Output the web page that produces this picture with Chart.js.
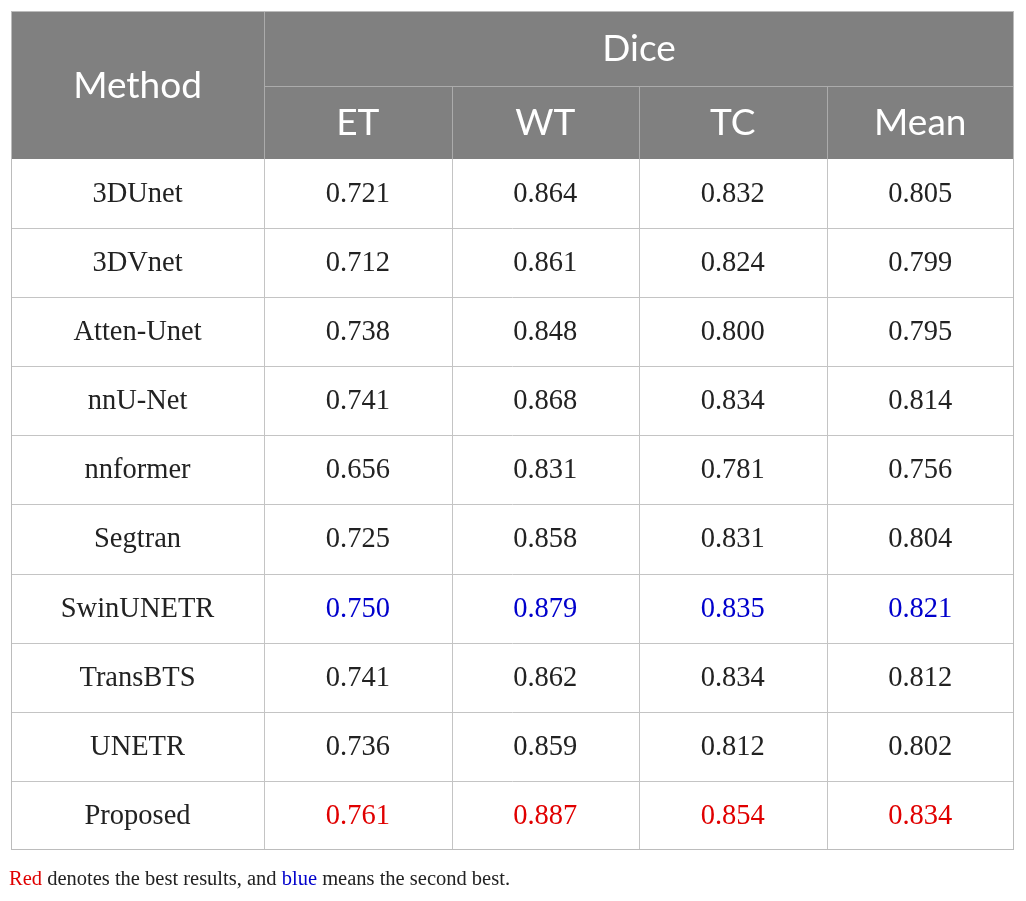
<html>
	<head>
		<script src="https://cdn.jsdelivr.net/npm/chart.js"></script>
		<style>
			body { margin: 0; background: #fff; }
			#note {
				position: absolute; left: 9px; top: 867px;
				font-family: 'Liberation Serif', serif; font-size: 20.5px; color: #222;
				white-space: nowrap;
			}
		</style>
	</head>

	<body>
		<canvas id="myChart" width="1026" height="901"></canvas>
		<div id="note"><span style="color:#e00000">Red</span> denotes the best results, and <span style="color:#0000cc">blue</span> means the second best.</div>

		<script>
			const methods = ['3DUnet', '3DVnet', 'Atten-Unet', 'nnU-Net', 'nnformer', 'Segtran', 'SwinUNETR', 'TransBTS', 'UNETR', 'Proposed'];
			const metrics = ['ET', 'WT', 'TC', 'Mean'];
			const et   = [0.721, 0.712, 0.738, 0.741, 0.656, 0.725, 0.750, 0.741, 0.736, 0.761];
			const wt   = [0.864, 0.861, 0.848, 0.868, 0.831, 0.858, 0.879, 0.862, 0.859, 0.887];
			const tc   = [0.832, 0.824, 0.800, 0.834, 0.781, 0.831, 0.835, 0.834, 0.812, 0.854];
			const mean = [0.805, 0.799, 0.795, 0.814, 0.756, 0.804, 0.821, 0.812, 0.802, 0.834];
			const groupTitle = 'Dice';
			const methodTitle = 'Method';

			const columns = [et, wt, tc, mean];

			// table geometry in scale units
			const colEdges = [0, 1.35, 2.35, 3.35, 4.35, 5.35];
			const rowEdges = [0, 1.08, 2.14];
			methods.forEach((m, i) => rowEdges.push(2.14 + i + 1));

			const mid = (a, i) => (a[i] + a[i + 1]) / 2;

			// best (red) and second best (blue) per column
			function rankColor(values, v) {
				const s = [...new Set(values)].sort((a, b) => b - a);
				if (v === s[0]) return '#e00000';
				if (v === s[1]) return '#0000cc';
				return '#222';
			}

			const datasets = [];
			datasets.push({
				label: methodTitle,
				data: methods.map((m, i) => ({ x: mid(colEdges, 0), y: mid(rowEdges, i + 2) })),
				texts: methods,
				colors: methods.map(() => '#222'),
			});
			columns.forEach((col, c) => {
				datasets.push({
					label: metrics[c],
					data: col.map((v, i) => ({ x: mid(colEdges, c + 1), y: mid(rowEdges, i + 2) })),
					texts: col.map(v => v.toFixed(3)),
					colors: col.map(v => rankColor(col, v)),
				});
			});
			datasets.forEach(d => { d.pointRadius = 0; d.pointHoverRadius = 0; d.showLine = false; });

			const tablePlugin = {
				id: 'table',
				beforeDatasetsDraw(chart) {
					const ctx = chart.ctx, xs = chart.scales.x, ys = chart.scales.y;
					const X = u => Math.round(xs.getPixelForValue(u));
					const Y = u => Math.round(ys.getPixelForValue(u));
					const x0 = X(colEdges[0]), x1 = X(colEdges[colEdges.length - 1]);
					const yTop = Y(rowEdges[0]), yHead = Y(rowEdges[2]), yEnd = Y(rowEdges[rowEdges.length - 1]);
					ctx.save();
					// header fill
					ctx.fillStyle = '#808080';
					ctx.fillRect(x0, yTop, x1 - x0, yHead - yTop);
					ctx.lineWidth = 1;
					// header lines
					ctx.strokeStyle = '#ababab';
					ctx.beginPath();
					ctx.moveTo(X(colEdges[1]), Y(rowEdges[1]) + 0.5);
					ctx.lineTo(x1, Y(rowEdges[1]) + 0.5);
					ctx.moveTo(X(colEdges[1]) + 0.5, yTop);
					ctx.lineTo(X(colEdges[1]) + 0.5, yHead);
					for (let c = 2; c < colEdges.length - 1; c++) {
						ctx.moveTo(X(colEdges[c]) + 0.5, Y(rowEdges[1]));
						ctx.lineTo(X(colEdges[c]) + 0.5, yHead);
					}
					ctx.stroke();
					// body lines
					ctx.strokeStyle = '#c4c4c4';
					ctx.beginPath();
					for (let r = 3; r < rowEdges.length - 1; r++) {
						ctx.moveTo(x0, Y(rowEdges[r]) + 0.5);
						ctx.lineTo(x1, Y(rowEdges[r]) + 0.5);
					}
					for (let c = 1; c < colEdges.length - 1; c++) {
						ctx.moveTo(X(colEdges[c]) + 0.5, yHead);
						ctx.lineTo(X(colEdges[c]) + 0.5, yEnd);
					}
					ctx.stroke();
					// outer border
					ctx.strokeStyle = '#bcbcbc';
					ctx.strokeRect(x0 + 0.5, yTop + 0.5, x1 - x0 - 1, yEnd - yTop - 1);

					// header texts
					ctx.fillStyle = '#fff';
					ctx.textAlign = 'center';
					ctx.textBaseline = 'middle';
					ctx.font = '37px Lato';
					ctx.fillText(methodTitle, xs.getPixelForValue(mid(colEdges, 0)), ys.getPixelForValue((rowEdges[0] + rowEdges[2]) / 2) + 1);
					ctx.fillText(groupTitle, xs.getPixelForValue((colEdges[1] + colEdges[5]) / 2), ys.getPixelForValue(mid(rowEdges, 0)) + 1);
					metrics.forEach((m, c) => {
						ctx.fillText(m, xs.getPixelForValue(mid(colEdges, c + 1)), ys.getPixelForValue(mid(rowEdges, 1)) + 1);
					});
					ctx.restore();
				},
				afterDatasetsDraw(chart) {
					const ctx = chart.ctx;
					ctx.save();
					ctx.textAlign = 'center';
					ctx.textBaseline = 'middle';
					ctx.font = '28.5px "Liberation Serif"';
					chart.data.datasets.forEach((d, di) => {
						chart.getDatasetMeta(di).data.forEach((pt, i) => {
							ctx.fillStyle = d.colors[i];
							ctx.fillText(d.texts[i], pt.x, pt.y + 1);
						});
					});
					ctx.restore();
				}
			};

			const options = {
				animation: false,
				responsive: false,
				layout: { padding: { left: 11, top: 11, right: 12, bottom: 51 } },
				scales: {
					x: { type: 'linear', min: colEdges[0], max: colEdges[colEdges.length - 1], display: false },
					y: { type: 'linear', min: rowEdges[0], max: rowEdges[rowEdges.length - 1], reverse: true, display: false },
				},
				events: [],
				plugins: {
					legend: { display: false },
					tooltip: { enabled: false },
				}
			};

			var myChart = new Chart(document.getElementById('myChart'), {
				type: 'scatter',
				data: { datasets },
				options,
				plugins: [tablePlugin]
			});
		</script>
	</body>
</html>
